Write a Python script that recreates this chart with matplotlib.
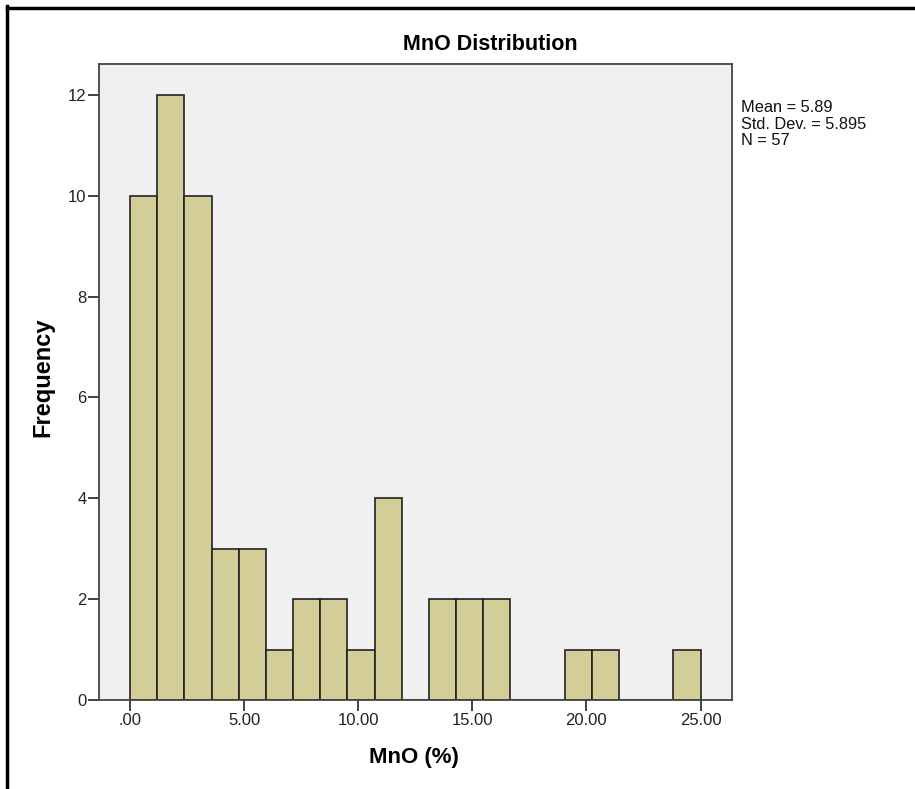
import numpy as np
import matplotlib
matplotlib.use("Agg")
import matplotlib.pyplot as plt
from matplotlib.lines import Line2D

plt.rcParams['font.family'] = ['Liberation Sans', 'DejaVu Sans']

# Histogram of MnO (%) - 21 bins between 0 and 25
bin_start = 0.0
bin_end = 25.0
counts = [10, 12, 10, 3, 3, 1, 2, 2, 1, 4, 0, 2, 2, 2, 0, 0, 1, 1, 0, 0, 1]
xticks = [0, 5, 10, 15, 20, 25]
xtick_labels = [".00", "5.00", "10.00", "15.00", "20.00", "25.00"]
yticks = [0, 2, 4, 6, 8, 10, 12]
stats = ["Mean = 5.89", "Std. Dev. = 5.895", "N = 57"]

edges = np.linspace(bin_start, bin_end, len(counts) + 1)
widths = np.diff(edges)

W, H = 915, 789
fig = plt.figure(figsize=(9.15, 7.89), dpi=100)
ax = fig.add_axes([99 / W, 1 - 700 / H, 633 / W, 636 / H])
ax.set_facecolor("#f0f0f0")

ax.bar(edges[:-1], counts, width=widths, align="edge",
       color="#d3ce97", edgecolor="#222222", linewidth=1.2)

ax.set_xlim(-1.36, 26.38)
ax.set_ylim(0, 12.61)
ax.set_xticks(xticks)
ax.set_xticklabels(xtick_labels)
ax.set_yticks(yticks)
ax.tick_params(axis="both", direction="out", length=8, width=1.3,
               color="#333333", labelsize=12, labelcolor="#222222")
ax.tick_params(axis="x", pad=1.5)
ax.tick_params(axis="y", pad=1)
for s in ax.spines.values():
    s.set_color("#444444")
    s.set_linewidth(1.3)

# axis titles and chart title
fig.text(414 / W, 1 - 758 / H, "MnO (%)", ha="center", va="center",
         fontsize=16, fontweight="bold")
fig.text(43 / W, 1 - 377 / H, "Frequency", ha="center", va="center",
         rotation=90, fontsize=17, fontweight="bold")
fig.text(490 / W, 1 - 44 / H, "MnO Distribution", ha="center", va="center",
         fontsize=15.5, fontweight="bold")

# statistics box text
for i, line in enumerate(stats):
    fig.text(741 / W, 1 - (112 + 16.7 * i) / H, line, ha="left", va="baseline",
             fontsize=11.8, color="#111111")

# black frame on top and left of the image
fig.add_artist(Line2D([6.5 / W, 1], [1 - 7.5 / H, 1 - 7.5 / H],
                      transform=fig.transFigure, color="black", linewidth=2.5))
fig.add_artist(Line2D([6.5 / W, 6.5 / W], [0, 1 - 6 / H],
                      transform=fig.transFigure, color="black", linewidth=2.5))

fig.savefig("out.png", dpi=100)
